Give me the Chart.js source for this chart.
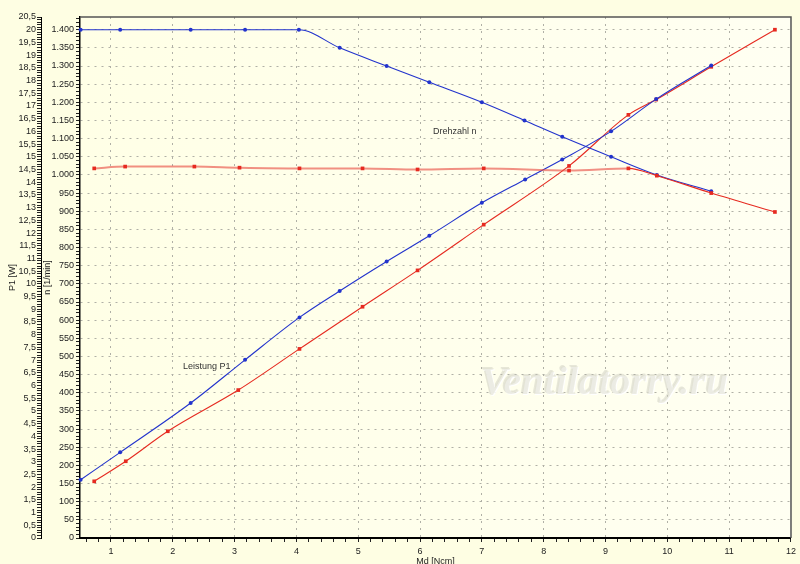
<!DOCTYPE html>
<html><head><meta charset="utf-8">
<script src="https://cdn.jsdelivr.net/npm/chart.js@4.4.0/dist/chart.umd.min.js"></script>
<style>
html,body{margin:0;padding:0;background:#FEFEE3;}
#wrap{position:relative;width:800px;height:564px;overflow:hidden;}
canvas{position:absolute;left:0;top:0;}
.lbl{position:absolute;font:9px "Liberation Sans",Arial,sans-serif;color:#333;white-space:nowrap;}
.wm{position:absolute;left:480px;top:356px;font:italic bold 41px "Liberation Serif",serif;color:rgba(222,222,208,0.55);text-shadow:1px 1px 0 rgba(255,255,255,0.9),-1px -1px 0 rgba(175,175,165,0.3);white-space:nowrap;}
</style></head>
<body><div id="wrap"><canvas id="c" width="800" height="564"></canvas>
<div class="lbl" style="left:433px;top:126px">Drehzahl n</div>
<div class="lbl" style="left:183px;top:361px">Leistung P1</div>
<div class="wm">Ventilatorry.ru</div>
</div>
<script>
// Md [Ncm] positions and values
const blueNx  = [0.51,1.15,2.29,3.17,4.04,4.70,5.46,6.15,7.00,7.69,8.30,9.09,9.83,10.71];
const blueN   = [1400,1400,1400,1400,1400,1350,1300,1255,1200,1150,1105,1050,1000,955];
const blueP1x = [0.51,1.15,2.29,3.17,4.05,4.70,5.46,6.15,7.00,7.70,8.30,9.09,9.82,10.71];
const blueP1  = [2.29,3.37,5.31,7.01,8.68,9.72,10.88,11.89,13.19,14.11,14.89,16.00,17.27,18.59];
const redNx   = [0.73,1.23,2.35,3.08,4.05,5.07,5.96,7.03,8.41,9.37,9.83,10.71,11.74];
const redN    = [1018,1023,1023,1020,1018,1018,1015,1018,1012,1018,998,950,898];
const redP1x  = [0.73,1.24,1.92,3.06,4.05,5.07,5.96,7.03,8.41,9.37,9.82,10.71,11.74];
const redP1   = [2.23,3.02,4.20,5.82,7.44,9.10,10.53,12.33,14.64,16.65,17.25,18.54,20.00];

// axis settings
const xMin = 0.5, xMax = 12, xMinorStep = 0.2;
const nMax = 1435, nMinorStep = 10, nMajorStep = 50;
const pMax = 20.5, pMinorStep = 0.1, pMajorStep = 0.5;

const BLUE = '#2233CC', RED = '#E62A20', RED_SOFT = 'rgba(232,70,60,0.6)';
const GRID = '#B0B0A6';
const FONT = {family: '"Liberation Sans", Arial, sans-serif', size: 9};

function pts(xs, ys){ return xs.map((x,i)=>({x:x, y:ys[i]})); }
function fmtN(v){ v = Math.round(v); return v >= 1000 ? Math.floor(v/1000)+'.'+String(v%1000).padStart(3,'0') : String(v); }
function fmtP(v){ return String(Math.round(v*10)/10).replace('.', ','); }
function isMult(v, step){ const r = v/step; return Math.abs(r - Math.round(r)) < 1e-6; }

const bgPlugin = {
  id: 'bg',
  beforeDraw(chart){
    const {ctx, chartArea: a} = chart;
    ctx.save();
    ctx.fillStyle = '#FEFEE3';
    ctx.fillRect(0,0,chart.width,chart.height);
    const g = ctx.createLinearGradient(a.left, a.top, a.right, a.top);
    g.addColorStop(0, '#FFFFE6');
    g.addColorStop(1, '#FFFFF2');
    ctx.fillStyle = g;
    ctx.fillRect(a.left, a.top, a.right-a.left, a.bottom-a.top);
    ctx.restore();
  },
  afterDraw(chart){
    const {ctx, chartArea: a} = chart;
    ctx.save();
    ctx.strokeStyle = '#555';
    ctx.lineWidth = 1.5;
    ctx.beginPath();
    ctx.moveTo(a.left, a.top); ctx.lineTo(a.right, a.top); ctx.lineTo(a.right, a.bottom);
    ctx.stroke();
    ctx.restore();
  }
};

const lineDs = (label, data, color, lineColor, lw, axis, style, r) => ({
  label, data, borderColor: lineColor, backgroundColor: color, pointBackgroundColor: color, borderWidth: lw,
  pointStyle: style, pointRadius: r, pointBorderWidth: 0, pointHoverRadius: r,
  showLine: true, cubicInterpolationMode: 'monotone', yAxisID: axis, clip: false
});

const redNds = lineDs('Drehzahl n (rot)', pts(redNx, redN), RED, RED_SOFT, 2, 'yN', 'rect', 2.6);
redNds.segment = {
  borderColor: c => c.p0.parsed.x >= 9.3 ? RED : RED_SOFT,
  borderWidth: c => c.p0.parsed.x >= 9.3 ? 1.1 : 2
};

new Chart(document.getElementById('c'), {
  type: 'scatter',
  data: {
    datasets: [
      redNds,
      lineDs('Drehzahl n (blau)', pts(blueNx, blueN), BLUE, BLUE, 1.1, 'yN', 'circle', 2),
      lineDs('Leistung P1 (blau)', pts(blueP1x, blueP1), BLUE, BLUE, 1.1, 'yP', 'circle', 2),
      lineDs('Leistung P1 (rot)', pts(redP1x, redP1), RED, RED, 1.1, 'yP', 'rect', 2.6)
    ]
  },
  options: {
    responsive: false, animation: false, devicePixelRatio: 1,
    layout: {padding: {top: 17, right: 7, left: 0, bottom: 0}},
    plugins: {legend: {display: false}, tooltip: {enabled: false}},
    scales: {
      x: {
        type: 'linear', position: 'bottom', min: xMin, max: xMax,
        afterBuildTicks: s => { const t=[]; for(let v=Math.round((xMin+0.1)*10); v<=xMax*10+1e-6; v+=xMinorStep*10) t.push({value: Math.round(v)/10}); s.ticks = t; },
        afterFit: s => { s.height = 26; },
        ticks: {autoSkip: false, maxRotation: 0, padding: 4, color: '#222', font: FONT,
          callback: v => isMult(v, 1) ? String(Math.round(v)) : ''},
        grid: {
          color: c => (c.tick && isMult(c.tick.value,1) && c.tick.value < xMax) ? GRID : 'rgba(0,0,0,0)',
          tickColor: '#222', tickLength: 4, tickWidth: 1, lineWidth: 1
        },
        border: {color: '#000', width: 2, dash: c => c.type === 'tick' ? [2,5] : []},
        title: {display: true, text: 'Md [Ncm]', color: '#222', font: FONT, padding: {top: 0, bottom: -3}}
      },
      yN: {
        type: 'linear', position: 'left', weight: 0, min: 0, max: nMax,
        afterBuildTicks: s => { const t=[]; for(let v=0; v<=nMax; v+=nMinorStep) t.push({value: v}); s.ticks = t; },
        afterFit: s => { s.width = 39; },
        ticks: {autoSkip: false, padding: 2, color: '#222', font: FONT,
          callback: v => isMult(v, nMajorStep) ? fmtN(v) : ''},
        grid: {
          color: c => (c.tick && isMult(c.tick.value, nMajorStep) && c.tick.value > 0) ? GRID : 'rgba(0,0,0,0)',
          tickColor: '#222', tickLength: 4, tickWidth: 1, lineWidth: 1
        },
        border: {color: '#000', width: 1.5, dash: c => c.type === 'tick' ? [2,5] : []},
        title: {display: true, text: 'n [1/min]', color: '#222', font: FONT, padding: {top: 1, bottom: 0}}
      },
      yP: {
        type: 'linear', position: 'left', weight: 1, min: 0, max: pMax,
        afterBuildTicks: s => { const t=[]; for(let i=0; i<=Math.round(pMax/pMinorStep); i++) t.push({value: Math.round(i*pMinorStep*10)/10}); s.ticks = t; },
        afterFit: s => { s.width = 41; },
        ticks: {autoSkip: false, padding: 1, color: '#222', font: FONT,
          callback: v => isMult(v, pMajorStep) ? fmtP(v) : ''},
        grid: {drawOnChartArea: false, tickColor: '#222', tickLength: 4, tickWidth: 1, lineWidth: 1},
        border: {color: '#000', width: 1},
        title: {display: true, text: 'P1 [W]', color: '#222', font: FONT, padding: {top: 7, bottom: 0}}
      }
    }
  },
  plugins: [bgPlugin]
});
</script>
</body></html>
